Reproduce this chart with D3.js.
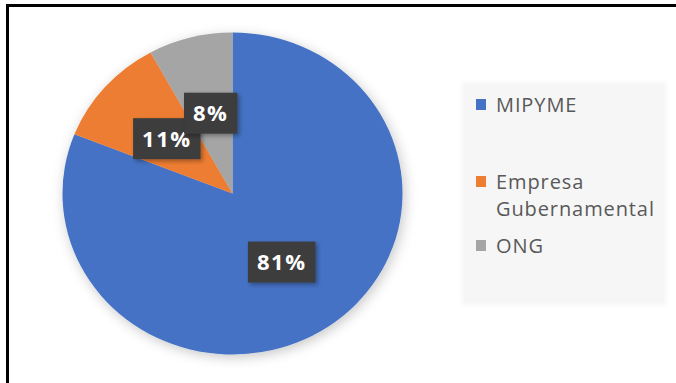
<!DOCTYPE html>
<html>
<head>
<meta charset="utf-8">
<script src="https://cdn.jsdelivr.net/npm/d3@7"></script>
<style>
  body { margin: 0; background: #fff; }
  svg { display: block; }
</style>
</head>
<body>
<svg id="chart"></svg>
<script>
// Data
const categories = ["MIPYME", "Empresa Gubernamental", "ONG"];
const values = [81, 11, 8];
const labels = ["81%", "11%", "8%"];
const legendLines = [["MIPYME"], ["Empresa", "Gubernamental"], ["ONG"]];
const colors = ["#4472C4", "#ED7D31", "#A5A5A5"];

const W = 676, H = 383;
const svg = d3.select("#chart").attr("width", W).attr("height", H);

// Filters for soft shadows
const defs = svg.append("defs");
defs.append("filter").attr("id", "pieShadow")
  .attr("x", "-20%").attr("y", "-20%").attr("width", "140%").attr("height", "140%")
  .append("feDropShadow")
  .attr("dx", 2).attr("dy", 3).attr("stdDeviation", 6)
  .attr("flood-color", "#000").attr("flood-opacity", 0.22);
defs.append("filter").attr("id", "boxShadow")
  .attr("x", "-30%").attr("y", "-30%").attr("width", "160%").attr("height", "160%")
  .append("feDropShadow")
  .attr("dx", 2).attr("dy", 2).attr("stdDeviation", 2)
  .attr("flood-color", "#000").attr("flood-opacity", 0.35);
defs.append("filter").attr("id", "legendBlur")
  .append("feGaussianBlur").attr("stdDeviation", 2);

// Frame (only top and left edges visible in the cropped picture)
svg.append("path")
  .attr("d", `M7.5,${H} L7.5,5.5 L${W},5.5`)
  .attr("fill", "none")
  .attr("stroke", "#000")
  .attr("stroke-width", 3);

// Pie geometry (slightly elliptical, as in the picture)
const cx = 232.5, cy = 193.5;
const r = 161;
const sx = 1.056;

const pie = d3.pie().sort(null).value(d => d);
const arcs = pie(values);
const arc = d3.arc().innerRadius(0).outerRadius(r);
const labelArc = d3.arc().innerRadius(r * 0.515).outerRadius(r * 0.515);

const g = svg.append("g")
  .attr("transform", `translate(${cx},${cy}) scale(${sx},1)`)
  .attr("filter", "url(#pieShadow)");

g.selectAll("path")
  .data(arcs)
  .enter().append("path")
  .attr("d", arc)
  .attr("fill", (d, i) => colors[i]);

// Data labels in dark boxes
const lab = svg.append("g");
arcs.forEach(function(d, i) {
  const [lx, ly] = labelArc.centroid(d);
  const x = cx + lx * sx, y = cy + ly;
  const grp = lab.append("g").attr("transform", `translate(${x},${y})`);
  const rect = grp.append("rect").attr("fill", "#3d3d3d").attr("filter", "url(#boxShadow)");
  const t = grp.append("text")
    .attr("text-anchor", "middle")
    .attr("dy", "0.36em")
    .attr("fill", "#fff")
    .style("font-family", "'Open Sans', sans-serif")
    .style("font-weight", "bold")
    .style("font-size", "22px")
    .style("letter-spacing", "1.5px")
    .text(labels[i]);
  const tw = t.node().getComputedTextLength();
  const bw = tw + 18, bh = 41;
  rect.attr("x", -bw / 2).attr("y", -bh / 2).attr("width", bw).attr("height", bh);
});

// Legend
const legend = svg.append("g");
legend.append("rect")
  .attr("x", 462).attr("y", 82).attr("width", 204).attr("height", 223)
  .attr("fill", "#f6f6f6")
  .attr("filter", "url(#legendBlur)");

const legendTop = [112, 189, 253]; // text baselines
legendLines.forEach(function(lines, i) {
  const base = legendTop[i];
  legend.append("rect")
    .attr("x", 476).attr("y", base - 13)
    .attr("width", 10).attr("height", 11)
    .attr("fill", colors[i]);
  const t = legend.append("text")
    .attr("x", 496).attr("y", base)
    .attr("fill", "#595959")
    .style("font-family", "'Open Sans', sans-serif")
    .style("font-size", "20px")
    .style("letter-spacing", "0.9px");
  lines.forEach(function(line, j) {
    t.append("tspan").attr("x", 496).attr("dy", j === 0 ? 0 : 27).text(line);
  });
});
</script>
</body>
</html>
